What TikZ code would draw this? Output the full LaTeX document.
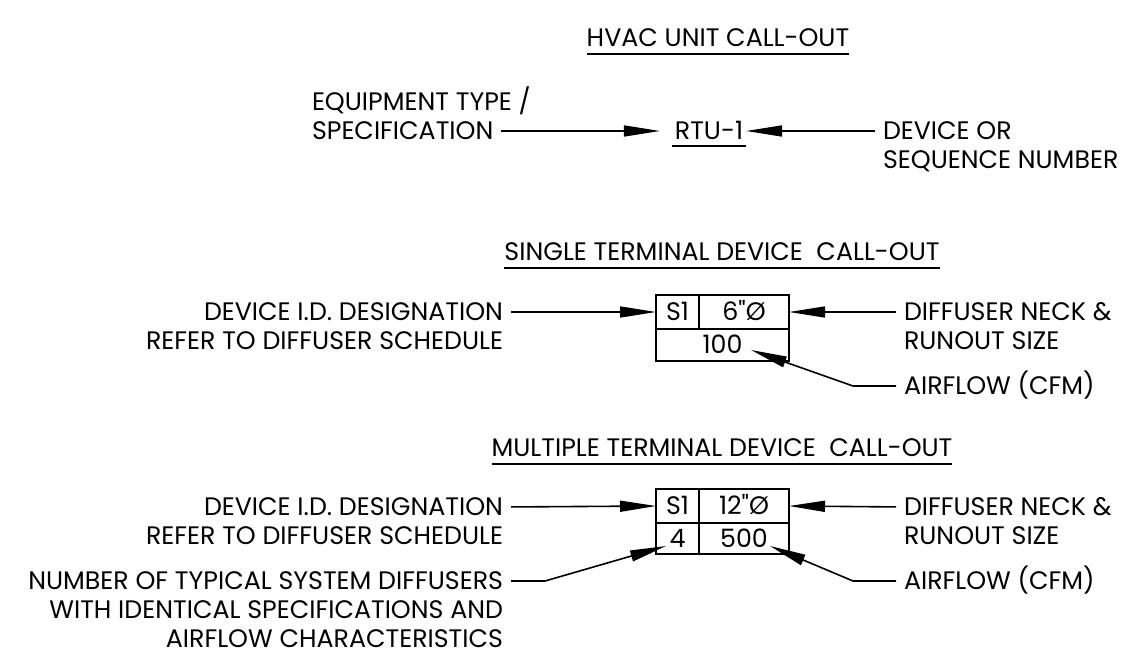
\documentclass[tikz,border=0pt]{standalone}
\usepackage{fontspec}
\setmainfont{Poppins}[Ligatures=TeXOff]
\usetikzlibrary{arrows.meta,positioning}
\newcommand{\calloutfont}{\fontsize{25.3}{29}\selectfont}
\newcommand{\capht}{17.6pt}
\newcommand{\linegap}{11.4pt}

\begin{document}
\begin{tikzpicture}[x=1pt, y=-1pt, font=\calloutfont, line width=1.6pt]
    \tikzstyle{lbl} = [inner sep=0pt, outer sep=0pt, text height=\capht, text depth=0pt]
    \tikzstyle{cell} = [rectangle, draw, outer sep=0pt, inner sep=0pt, minimum height=34pt, text height=\capht, text depth=0pt]
    \tikzstyle{leader} = [-{Triangle[length=36pt, width=11pt]}, shorten <=8pt]

    \useasboundingbox (0,0) rectangle (1133,655);

    % HVAC unit call-out
    \node [lbl] (hvac_title) at (718,38) {HVAC UNIT CALL-OUT};
    \draw ([yshift=-7pt]hvac_title.south west) -- ([yshift=-7pt]hvac_title.south east);
    \node [lbl, anchor=west] (equip_spec) at (312,131) {SPECIFICATION};
    \node [lbl, above=\linegap of equip_spec.north west, anchor=south west] (equip_type) {EQUIPMENT TYPE /};
    \node [lbl, inner xsep=3pt] (rtu) at (709,131) {RTU-1};
    \draw ([yshift=-6pt]rtu.south west) -- ([yshift=-6pt]rtu.south east);
    \node [lbl, anchor=west] (dev_or) at (883,131) {DEVICE OR};
    \node [lbl, below=\linegap of dev_or.south west, anchor=north west] (seq_num) {SEQUENCE NUMBER};
    \draw [leader, shorten >=12pt] (equip_spec.east) -- (rtu.west);
    \draw [leader] (dev_or.west) -- (rtu.east);

    % Single terminal device call-out
    \node [lbl] (single_title) at (722,252) {SINGLE TERMINAL DEVICE~\ CALL-OUT};
    \draw ([yshift=-7pt]single_title.south west) -- ([yshift=-7pt]single_title.south east);
    \node [cell, minimum width=43pt] (s_id) at (677.5,312) {S1};
    \node [cell, minimum width=90pt, right=0pt of s_id] (s_neck) {6"Ø};
    \node [cell, minimum width=133pt, minimum height=32pt, below=0pt of s_id.south west, anchor=north west] (s_cfm) {100};
    \node [lbl, anchor=east] (s_dev) at (503,312) {DEVICE I.D. DESIGNATION};
    \node [lbl, below=\linegap of s_dev.south east, anchor=north east] (s_ref) {REFER TO DIFFUSER SCHEDULE};
    \node [lbl, anchor=west] (s_neck_lbl) at (904,312) {DIFFUSER NECK \&};
    \node [lbl, below=\linegap of s_neck_lbl.south west, anchor=north west] (s_run_lbl) {RUNOUT SIZE};
    \node [lbl, anchor=west] (s_air) at (904,386) {AIRFLOW (CFM)};
    \coordinate (s_cfm_tip) at (751,350);
    \coordinate (s_cfm_knee) at (853,386);
    \draw [leader] (s_dev.east) -- (s_id.west);
    \draw [leader] (s_neck_lbl.west) -- (s_neck.east);
    \draw [leader] (s_air.west) -- (s_cfm_knee) -- (s_cfm_tip);

    % Multiple terminal device call-out
    \node [lbl] (multi_title) at (722,448) {MULTIPLE TERMINAL DEVICE~\ CALL-OUT};
    \draw ([yshift=-7pt]multi_title.south west) -- ([yshift=-7pt]multi_title.south east);
    \node [cell, minimum width=43pt] (m_id) at (677.5,506) {S1};
    \node [cell, minimum width=90pt, right=0pt of m_id] (m_neck) {12"Ø};
    \node [cell, minimum width=43pt, minimum height=31pt, below=0pt of m_id.south west, anchor=north west] (m_qty) {4};
    \node [cell, minimum width=90pt, minimum height=31pt, right=0pt of m_qty] (m_cfm) {500};
    \node [lbl, anchor=east] (m_dev) at (503,507) {DEVICE I.D. DESIGNATION};
    \node [lbl, below=\linegap of m_dev.south east, anchor=north east] (m_ref) {REFER TO DIFFUSER SCHEDULE};
    \node [lbl, anchor=east] (m_num) at (503,581) {NUMBER OF TYPICAL SYSTEM DIFFUSERS};
    \node [lbl, below=\linegap of m_num.south east, anchor=north east] (m_ident) {WITH IDENTICAL SPECIFICATIONS AND};
    \node [lbl, below=\linegap of m_ident.south east, anchor=north east] (m_char) {AIRFLOW CHARACTERISTICS};
    \node [lbl, anchor=west] (m_neck_lbl) at (904,507) {DIFFUSER NECK \&};
    \node [lbl, below=\linegap of m_neck_lbl.south west, anchor=north west] (m_run_lbl) {RUNOUT SIZE};
    \node [lbl, anchor=west] (m_air) at (904,581) {AIRFLOW (CFM)};
    \coordinate (m_qty_tip) at (666,546);
    \coordinate (m_qty_knee) at (545,581);
    \coordinate (m_cfm_tip) at (770,546);
    \coordinate (m_cfm_knee) at (853,581);
    \draw [leader] (m_dev.east) -- (m_id.west);
    \draw [leader] (m_neck_lbl.west) -- (m_neck.east);
    \draw [leader] (m_num.east) -- (m_qty_knee) -- (m_qty_tip);
    \draw [leader] (m_air.west) -- (m_cfm_knee) -- (m_cfm_tip);
\end{tikzpicture}
\end{document}
